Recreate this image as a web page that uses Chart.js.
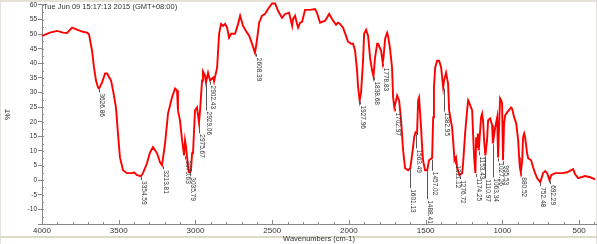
<!DOCTYPE html>
<html><head><meta charset="utf-8">
<script src="https://cdn.jsdelivr.net/npm/chart.js@4/dist/chart.umd.min.js"></script>
<style>html,body{margin:0;padding:0;background:#fff;overflow:hidden}#wrap{width:597px;height:244px}</style>
</head><body><div id="wrap"><canvas id="c" width="597" height="244"></canvas></div>
<script>
const headerText = "Tue Jun 09 15:17:13 2015 (GMT+08:00)";
const xAxisTitle = "Wavenumbers (cm-1)";
const yAxisTitle = "%T";
const xTickLabels = [4000, 3500, 3000, 2500, 2000, 1500, 1000, 500];
const yTickLabels = [60, 55, 50, 45, 40, 35, 30, 25, 20, 15, 10, 5, 0, -5, -10];

const wavenumbers = [
4000,3948,3902,3863,3837,3804,3772,3733,3707,3694,3674,3661,3648,3635,3628,3609,3589,3576,3550,3537,
3518,3505,3492,3472,3446,3413,3400,3381,3355,3342,3316,3296,3277,3250,3231,3218,3198,3179,3153,3133,
3120,3114,3101,3087,3074,3068,3061,3048,3042,3035,3029,3022,3016,3003,2990,2977,2970,2957,2951,2938,
2931,2918,2905,2885,2879,2859,2846,2833,2820,2807,2794,2781,2768,2742,2722,2709,2690,2664,2650,2630,
2612,2600,2585,2566,2547,2527,2501,2481,2462,2436,2416,2390,2370,2364,2351,2338,2331,2318,2305,2286,
2253,2221,2208,2188,2155,2129,2103,2084,2071,2058,2038,2019,2006,1986,1973,1960,1947,1940,1930,1921,
1908,1901,1888,1875,1862,1849,1840,1830,1816,1810,1790,1780,1775,1764,1751,1745,1732,1719,1712,1704,
1693,1686,1673,1660,1647,1634,1614,1600,1582,1575,1566,1556,1549,1543,1530,1523,1517,1504,1490,1478,
1466,1458,1451,1446,1438,1425,1412,1399,1386,1380,1367,1354,1347,1328,1321,1312,1302,1295,1280,1262,
1256,1243,1230,1223,1217,1197,1191,1184,1176,1171,1165,1160,1154,1139,1132,1126,1119,1111,1100,1093,
1080,1067,1062,1047,1034,1028,1021,1015,1008,1002,996,989,982,969,943,937,923,910,897,891,
886,880,871,865,858,852,839,832,813,800,787,774,753,735,721,708,693,682,656,611,
578,539,526,506,487,461,428,396
];
const transmittance = [
49.4,50.5,51.1,50.5,50.4,52.2,51.5,50.8,50.5,50.0,44.3,38.5,34.1,31.7,31.4,33.4,36.5,36.5,34.1,30.7,
24.9,16.0,7.8,3.4,2.4,2.4,2.7,1.7,1.4,2.4,5.8,9.5,11.3,9.2,6.1,5.1,12.6,22.8,28.3,31.4,
30.7,23.9,20.5,13.6,8.5,13.6,11.3,4.4,2.7,2.7,3.4,9.2,9.2,23.9,24.9,19.8,23.9,34.1,37.2,35.8,
33.4,36.8,34.1,35.1,33.8,38.5,50.1,53.5,52.8,53.5,52.2,48.8,50.1,50.1,53.5,56.3,52.8,50.5,49.5,46.5,
43.6,47.7,53.9,56.3,56.9,58.6,60.5,60.5,58.0,55.6,56.9,57.3,52.8,55.2,56.3,53.5,52.2,53.9,54.2,58.3,
58.3,58.6,57.3,53.9,54.6,56.9,54.6,53.2,53.9,53.5,52.2,49.4,47.4,46.7,46.7,44.3,37.5,31.7,27.3,30.0,
40.9,50.1,51.5,49.4,41.9,37.5,35.5,41.9,46.7,46.7,44.3,40.2,41.9,48.4,50.5,49.4,45.0,38.5,28.3,24.9,
27.3,29.0,27.3,20.5,10.2,4.1,3.4,4.1,11.3,14.7,16.4,16.0,27.3,28.3,18.1,11.3,6.8,3.4,3.4,6.8,
7.3,7.6,21.5,31.7,38.5,40.9,40.9,38.5,31.7,34.1,36.8,33.1,23.9,18.1,13.6,6.8,7.8,4.4,1.7,2.4,
5.8,16.0,23.9,27.3,26.6,23.9,16.0,7.8,2.4,14.7,11.3,16.0,10.2,21.5,22.8,20.5,13.6,8.5,13.6,20.5,
21.1,18.8,12.6,18.1,21.5,7.8,19.4,28.0,27.3,26.3,6.8,19.4,22.2,23.2,24.9,24.5,21.5,19.4,13.6,7.8,
4.4,2.7,6.8,14.7,16.0,14.7,9.2,7.5,6.8,4.4,2.4,0.7,-0.7,2.4,3.1,2.4,0.0,1.7,2.4,2.4,
2.7,3.8,2.0,0.7,1.0,1.4,1.0,0.3
];
const peakLabels = ["3626.86","3354.59","3213.81","3070.63","3035.79","2975.67","2929.06","2902.43","2608.39",
"1927.96","1838.68","1778.83","1702.97","1601.13","1563.49","1488.41","1457.02","1382.95","1311.12",
"1276.72","1174.25","1153.43","1110.97","1063.34","1027.26","995.53","880.52","752.48","692.29"];

// leader line lengths (style)
const leaderLen = {"2975.67":10,"2929.06":27,"1601.13":19,"1563.49":14,"1488.41":28,"1457.02":11,
  "1382.95":23,"1110.97":22,"1063.34":33,"1153.43":4};

const points = wavenumbers.map((w,i)=>({x:w,y:transmittance[i]}));

const framePlugin = {
  id:'frame',
  beforeDraw(chart){
    const ctx = chart.ctx;
    ctx.save();
    ctx.fillStyle = '#ffffff';
    ctx.fillRect(0,0,chart.width,chart.height);
    ctx.fillStyle = '#e4e2da';
    ctx.fillRect(0,0,chart.width,2);
    ctx.fillRect(0,0,1,chart.height);
    ctx.fillRect(chart.width-1,0,1,chart.height);
    ctx.fillStyle = '#dcd8cc';
    ctx.fillRect(0,236,chart.width,2);
    ctx.restore();
  },
  afterDraw(chart){
    const ctx = chart.ctx, xs = chart.scales.x, ys = chart.scales.y, a = chart.chartArea;
    ctx.save();
    // header
    ctx.fillStyle = '#333';
    ctx.font = "7.5px 'Liberation Sans'";
    ctx.textBaseline = 'middle';
    ctx.textAlign = 'left';
    ctx.fillText(headerText, a.left + 1, a.top + 2);
    // inward minor ticks
    ctx.strokeStyle = '#888';
    ctx.lineWidth = 1;
    ctx.beginPath();
    xs.ticks.forEach(t => {
      const x = Math.round(xs.getPixelForValue(t.value)) + 0.5;
      ctx.moveTo(x, a.bottom); ctx.lineTo(x, a.bottom - (t.value % 500 === 0 ? 4 : 2));
    });
    for (let v = -15; v <= 60; v += 2.5) {
      const y = Math.round(ys.getPixelForValue(v)) + 0.5;
      ctx.moveTo(a.left, y); ctx.lineTo(a.left + 2, y);
    }
    ctx.stroke();
    // peak labels
    ctx.font = "6.5px 'Liberation Sans'";
    ctx.fillStyle = '#333';
    ctx.strokeStyle = '#555';
    peakLabels.forEach(lbl => {
      const wn = parseFloat(lbl);
      let m = Infinity;
      wavenumbers.forEach((w,i)=>{ if (Math.abs(w-wn) <= 10 && transmittance[i] < m) m = transmittance[i]; });
      if (!isFinite(m)) return;
      const x = Math.round(xs.getPixelForValue(wn)) + 0.5;
      const y0 = ys.getPixelForValue(m) + 1;
      const L = leaderLen[lbl] || 3;
      ctx.beginPath(); ctx.moveTo(x, y0); ctx.lineTo(x, y0 + L); ctx.stroke();
      ctx.save();
      ctx.translate(x + 2, y0 + L + 1);
      ctx.rotate(Math.PI/2);
      ctx.textAlign = 'left'; ctx.textBaseline = 'middle';
      ctx.fillText(lbl, 0, 0);
      ctx.restore();
    });
    ctx.restore();
  }
};

new Chart(document.getElementById('c'), {
  type:'line',
  data:{ datasets:[{ data:points, borderColor:'#ff0000', borderWidth:1.9, pointRadius:0, tension:0, fill:false, clip:false }]},
  options:{
    responsive:false, animation:false, devicePixelRatio:1,
    layout:{ padding:{ left:0, right:1, top:4, bottom:0 } },
    plugins:{ legend:{display:false}, tooltip:{enabled:false} },
    scales:{
      x:{ type:'linear', reverse:true, min:390, max:4000,
        afterFit(s){ s.height = 20; },
        afterBuildTicks(s){
          const t = [];
          for (let v = 4000; v >= 400; v -= 100) t.push({ value: v });
          s.ticks = t;
        },
        grid:{ drawOnChartArea:false, drawTicks:false },
        border:{ display:true, color:'#888', width:1 },
        ticks:{ autoSkip:false, maxRotation:0, padding:1.5, color:'#333',
          font:{ family:'Liberation Sans', size:8 },
          callback:(v)=> xTickLabels.includes(v) ? String(v) : '' },
        title:{ display:true, text:xAxisTitle, color:'#333', font:{ family:'Liberation Sans', size:7.5 }, padding:{top:0,bottom:1} }
      },
      y:{ type:'linear', min:-15, max:60,
        afterFit(s){ s.width = 42; },
        grid:{ drawOnChartArea:false, drawTicks:true, tickLength:4, color:'#888' },
        border:{ display:true, color:'#888', width:1 },
        ticks:{ stepSize:5, autoSkip:false, padding:1, color:'#333',
          font:{ family:'Liberation Sans', size:6.5 },
          callback:(v)=> yTickLabels.includes(v) ? String(v) : '' },
        title:{ display:true, text:yAxisTitle, color:'#333', font:{ family:'Liberation Sans', size:7.5 }, padding:{top:3.5,bottom:0} }
      }
    }
  },
  plugins:[framePlugin]
});
</script></body></html>
